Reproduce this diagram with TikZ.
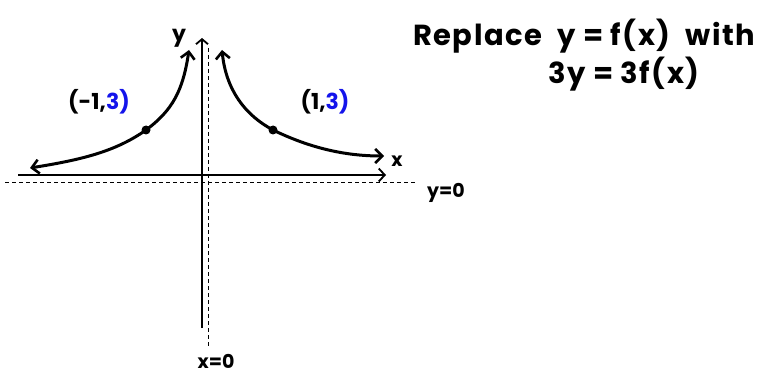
\documentclass[tikz,border=0pt]{standalone}
\usepackage{fontspec}
\setmainfont{Poppins}
\usetikzlibrary{arrows.meta}
\begin{document}
\begin{tikzpicture}[x=1pt,y=-1pt,
  axis/.style={line width=1.4pt},
  asym/.style={line width=1pt,dash pattern=on 4pt off 3pt},
  curve/.style={line width=3pt,line cap=round,-{Straight Barb[length=7pt,width=14pt,line width=2.6pt]}},
  lab/.style={font=\fontsize{22}{24}\selectfont\bfseries,inner sep=0pt},
  small/.style={font=\fontsize{19}{20}\selectfont\bfseries,inner sep=0pt},
  big/.style={font=\fontsize{29}{31}\selectfont\bfseries\addfontfeature{LetterSpace=5},inner sep=0pt},
  dotm/.style={circle,fill=black,inner sep=0pt,minimum size=9pt}]
\useasboundingbox (0,0) rectangle (778,374);
\definecolor{penblue}{RGB}{20,20,235}
% reference points
\coordinate (xl) at (18,175);
\coordinate (xr) at (386,175);
\coordinate (yt) at (202,38);
\coordinate (yb) at (202,328);
\coordinate (dl) at (5,182);
\coordinate (dr) at (417,182);
\coordinate (dt) at (208,48);
\coordinate (db) at (208,347);
% axes
\draw[axis,-{Straight Barb[length=6pt,width=13pt,line width=1.8pt]}] (xl) -- (xr);
\draw[axis,-{Straight Barb[length=5pt,width=12pt,line width=1.8pt]}] (yb) -- (yt);
% asymptotes
\draw[asym] (dl) -- (dr);
\draw[asym] (dt) -- (db);
% curves
\node[dotm] (pl) at (146,130) {};
\node[dotm] (pr) at (273,130) {};
\coordinate (lt) at (189,50);
\coordinate (le) at (30,168);
\coordinate (rt) at (222,50);
\coordinate (re) at (384,156);
\draw[curve] (pl.center) .. controls (173,110) and (183,90) .. (lt);
\draw[curve] (pl.center) .. controls (115,152) and (80,160) .. (le);
\draw[curve] (pr.center) .. controls (245,115) and (226,90) .. (rt);
\draw[curve] (pr.center) .. controls (310,148) and (345,156) .. (re);
% labels
\node[lab,anchor=base] (ylab) at (179,42) {y};
\node[small,anchor=base] (xlab) at (397,167) {x};
\node[small,anchor=base] (y0) at (446,197) {y=0};
\node[small,anchor=base] (x0) at (216,368) {x=0};
\node[lab,anchor=base] (ptl) at (99,110) {(-1,\textcolor{penblue}{3)}};
\node[lab,anchor=base] (ptr) at (325,110) {(1,\textcolor{penblue}{3)}};
\node[big,anchor=base west] (t1) at (413,46) {Replace\ \ y = f(x)\ \ with};
\node[big,anchor=base west] (t2) at (548,84) {3y = 3f(x)};
\end{tikzpicture}
\end{document}
